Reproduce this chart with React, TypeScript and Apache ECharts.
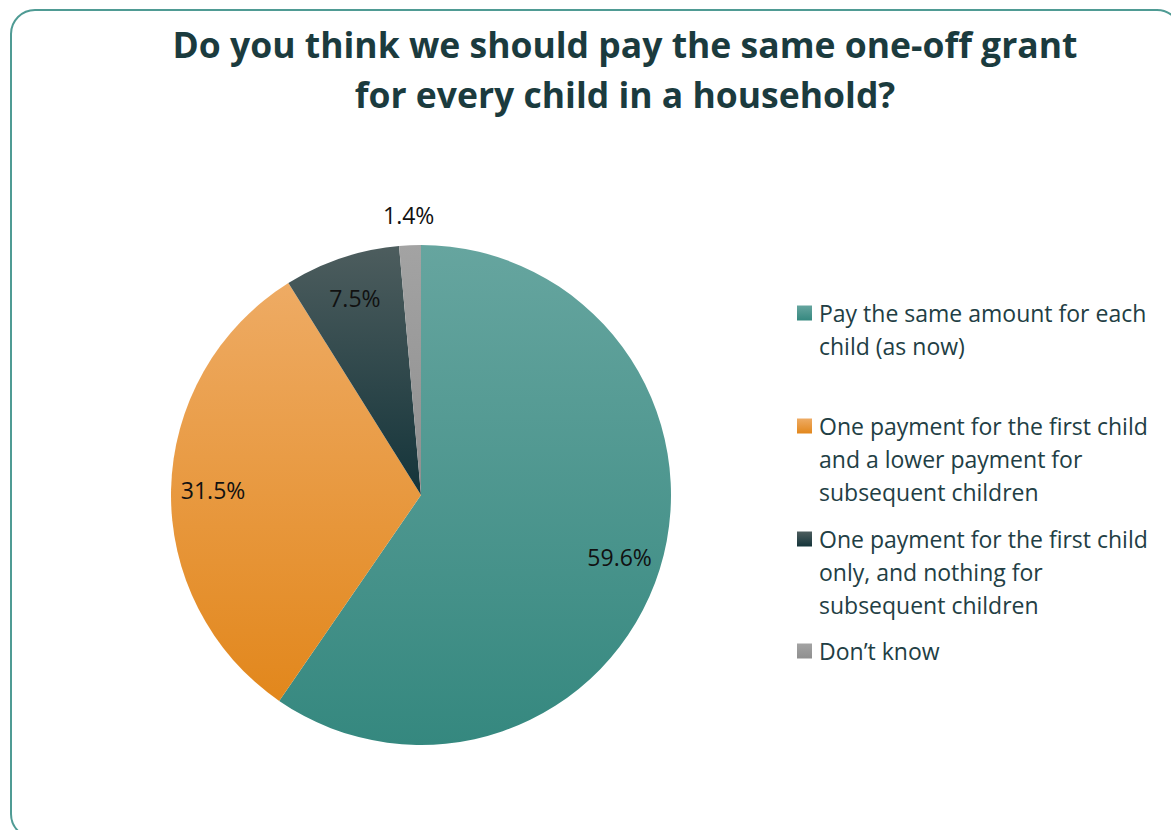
import React, { useEffect, useRef } from "react";
import * as echarts from "echarts";

// Survey answers and their shares (%)
const categories = [
  "Pay the same amount for each\nchild (as now)",
  "One payment for the first child\nand a lower payment for\nsubsequent children",
  "One payment for the first child\nonly, and nothing for\nsubsequent children",
  "Don\u2019t know",
];
const shares = [59.6, 31.5, 7.5, 1.4];

// Slice gradients: [top, bottom]
const sliceColors = [
  ["#66a59f", "#35887f"],
  ["#eeab64", "#e2871c"],
  ["#4d5d5e", "#14343a"],
  ["#a3a3a3", "#8f8f8f"],
];

const titleLines = [
  "Do you think we should pay the same one-off grant",
  "for every child in a household?",
];

// Vertical centre of each legend entry's first line
const legendRows = [313, 426, 539, 651];

const FONT = "'Open Sans', 'Noto Sans', sans-serif";

export default function App() {
  const ref = useRef<HTMLDivElement>(null);

  useEffect(() => {
    document.body.style.margin = "0";
    const chart = echarts.init(ref.current!, undefined, { renderer: "svg" });

    const grad = (c: string[]) =>
      new echarts.graphic.LinearGradient(0, 0, 0, 1, [
        { offset: 0, color: c[0] },
        { offset: 1, color: c[1] },
      ]);

    const pieData = categories.map((name, i) => ({
      name,
      value: shares[i],
      itemStyle: { color: grad(sliceColors[i]) },
    }));

    const legendGraphics: any[] = [];
    categories.forEach((name, i) => {
      const cy = legendRows[i];
      legendGraphics.push({
        type: "rect",
        shape: { x: 797, y: cy - 7.5, width: 15, height: 15 },
        style: { fill: grad(sliceColors[i]) },
      });
      legendGraphics.push({
        type: "text",
        x: 819,
        y: cy - 16.5,
        style: {
          text: name,
          font: `23px ${FONT}`,
          fill: "#223e44",
          lineHeight: 33,
          verticalAlign: "top",
          align: "left",
        },
      });
    });

    const labelPie = (radius: number[], showIdx: (i: number) => boolean) => ({
      type: "pie",
      center: [421, 495],
      radius,
      silent: true,
      startAngle: 90,
      clockwise: true,
      itemStyle: { color: "rgba(0,0,0,0)" },
      labelLine: { show: false },
      data: categories.map((name, i) => ({
        name,
        value: shares[i],
        label: {
          show: showIdx(i),
          position: "inside",
          formatter: `${shares[i].toFixed(1)}%`,
          fontFamily: FONT,
          fontSize: 23,
          color: "#111111",
        },
      })),
    });

    chart.setOption({
      animation: false,
      backgroundColor: "#ffffff",
      title: {
        text: titleLines.join("\n"),
        left: 620,
        top: 14,
        textAlign: "center",
        textStyle: {
          fontFamily: FONT,
          fontWeight: "bold",
          fontSize: 35.5,
          lineHeight: 50,
          color: "#1b3b3e",
        },
      },
      graphic: [
        {
          type: "rect",
          shape: { x: 11, y: 10, width: 1170, height: 828, r: 24 },
          style: { fill: "none", stroke: "#4f9b94", lineWidth: 2 },
          z: -1,
        },
        ...legendGraphics,
      ],
      series: [
        {
          type: "pie",
          center: [421, 495],
          radius: [0, 250],
          startAngle: 90,
          clockwise: true,
          silent: true,
          label: { show: false },
          labelLine: { show: false },
          data: pieData,
        },
        labelPie([160, 250], (i) => i < 3),
        labelPie([250, 304], (i) => i === 3),
      ],
    });

    return () => chart.dispose();
  }, []);

  return <div ref={ref} style={{ width: 1171, height: 830 }} />;
}
